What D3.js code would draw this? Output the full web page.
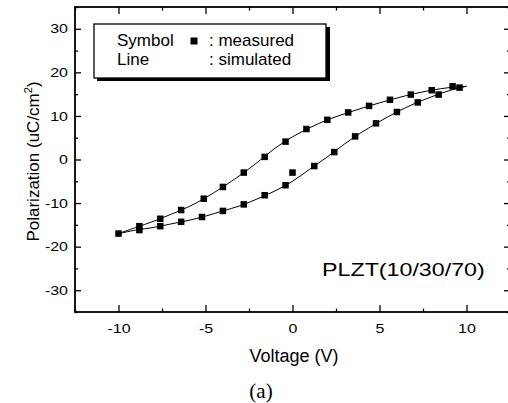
<!DOCTYPE html>
<html>
<head>
<meta charset="utf-8">
<script src="https://cdnjs.cloudflare.com/ajax/libs/d3/7.8.5/d3.min.js"></script>
<style>
  body { margin: 0; background: #fff; }
  svg text { font-family: "Liberation Sans", Arial, sans-serif; fill: #000; }
</style>
</head>
<body>
<script>
// measured points, rising branch (-10 V -> +10 V)
var riseV = [-10, -8.8, -7.6, -6.4, -5.2, -4.0, -2.8, -1.6, -0.4, 0.0, 1.25, 2.4, 3.6, 4.8, 6.0, 7.2, 8.4, 9.6];
var riseP = [-17.0, -16.2, -15.3, -14.3, -13.2, -11.8, -10.3, -8.2, -5.9, -3.0, -1.5, 1.7, 5.3, 8.3, 10.9, 13.1, 14.9, 16.5];
// measured points, falling branch (+10 V -> -10 V)
var fallV = [9.2, 8.0, 6.8, 5.6, 4.4, 3.2, 2.0, 0.8, -0.4, -1.6, -2.8, -4.0, -5.1, -6.4, -7.6, -8.8];
var fallP = [16.8, 15.9, 14.9, 13.7, 12.3, 10.8, 9.1, 7.0, 4.1, 0.6, -3.0, -6.3, -9.0, -11.6, -13.6, -15.3];

// simulated curves
var simV = [-10, -9, -8, -7, -6, -5, -4, -3, -2, -1, 0, 1, 2, 3, 4, 5, 6, 7, 8, 9, 10];
var simRiseP = [-17.0, -16.2, -15.6, -14.8, -14.0, -13.0, -11.8, -10.6, -9.0, -7.2, -5.0, -2.2, 0.6, 3.6, 6.3, 8.7, 10.9, 12.8, 14.4, 15.8, 16.8];
var simFallP = [-17.0, -15.6, -14.2, -12.6, -10.9, -8.8, -6.3, -3.6, -0.6, 2.6, 5.2, 7.3, 9.1, 10.5, 11.8, 13.0, 14.1, 15.1, 15.9, 16.5, 16.8];

var xTicks = [-10, -5, 0, 5, 10];
var xMinor = [-12.5, -7.5, -2.5, 2.5, 7.5, 12.5];
var yTicks = [-30, -20, -10, 0, 10, 20, 30];
var yMinor = [-35, -25, -15, -5, 5, 15, 25, 35];

var svg = d3.select("body").append("svg")
            .attr("width", 508)
            .attr("height", 403);

var x = d3.scaleLinear().domain([-12.5, 12.5]).range([75, 510]);
var y = d3.scaleLinear().domain([-35, 35]).range([312, 7]);

function styleAxis(g) {
  g.select(".domain").remove();
  g.selectAll(".tick line").attr("stroke", "#000").attr("stroke-width", 1.3);
}

// major ticks with labels
svg.append("g").attr("transform", "translate(0,312)")
   .call(d3.axisBottom(x).tickValues(xTicks).tickSize(-7).tickPadding(11.5).tickFormat(function (d) { return String(d); }))
   .call(styleAxis)
   .call(function (g) {
     g.selectAll("text").attr("font-size", 13).attr("transform", "scale(1.23,1)");
   });
svg.append("g").attr("transform", "translate(75,0)")
   .call(d3.axisLeft(y).tickValues(yTicks).tickSize(-6).tickPadding(5.7).tickFormat(function (d) { return String(d); }))
   .call(styleAxis)
   .call(function (g) {
     g.selectAll("text").attr("font-size", 13).attr("transform", "scale(1.23,1)");
   });
svg.append("g").attr("transform", "translate(0,7)")
   .call(d3.axisTop(x).tickValues(xTicks).tickSize(-7).tickFormat(""))
   .call(styleAxis);
svg.append("g").attr("transform", "translate(510,0)")
   .call(d3.axisRight(y).tickValues(yTicks).tickSize(-6).tickFormat(""))
   .call(styleAxis);

// minor ticks
svg.append("g").attr("transform", "translate(0,312)")
   .call(d3.axisBottom(x).tickValues(xMinor).tickSize(-3.5).tickFormat("")).call(styleAxis);
svg.append("g").attr("transform", "translate(0,7)")
   .call(d3.axisTop(x).tickValues(xMinor).tickSize(-3.5).tickFormat("")).call(styleAxis);
svg.append("g").attr("transform", "translate(75,0)")
   .call(d3.axisLeft(y).tickValues(yMinor).tickSize(-3).tickFormat("")).call(styleAxis);
svg.append("g").attr("transform", "translate(510,0)")
   .call(d3.axisRight(y).tickValues(yMinor).tickSize(-3).tickFormat("")).call(styleAxis);

// frame
svg.append("rect")
   .attr("x", 75).attr("y", 7)
   .attr("width", 435).attr("height", 305)
   .attr("fill", "none").attr("stroke", "#000").attr("stroke-width", 1.8);

// simulated lines
var line = d3.line()
             .x(function (d) { return x(d[0]); })
             .y(function (d) { return y(d[1]); })
             .curve(d3.curveCatmullRom);

[simRiseP, simFallP].forEach(function (ps) {
  svg.append("path")
     .datum(simV.map(function (v, i) { return [v, ps[i]]; }))
     .attr("d", line)
     .attr("fill", "none")
     .attr("stroke", "#000")
     .attr("stroke-width", 1);
});

// measured symbols
var pts = riseV.map(function (v, i) { return [v, riseP[i]]; })
               .concat(fallV.map(function (v, i) { return [v, fallP[i]]; }));
var sq = 6.5;
svg.selectAll("rect.pt")
   .data(pts)
   .enter()
   .append("rect")
   .attr("class", "pt")
   .attr("x", function (d) { return x(d[0]) - sq / 2; })
   .attr("y", function (d) { return y(d[1]) - sq / 2; })
   .attr("width", sq)
   .attr("height", sq)
   .attr("fill", "#000");

// legend with drop shadow
svg.append("rect").attr("x", 97).attr("y", 27).attr("width", 233).attr("height", 54).attr("fill", "#000");
svg.append("rect").attr("x", 94).attr("y", 24).attr("width", 232).attr("height", 54)
   .attr("fill", "#fff").attr("stroke", "#000").attr("stroke-width", 1.3);
svg.append("text").attr("x", 117).attr("y", 46).attr("font-size", 17).text("Symbol");
svg.append("text").attr("x", 117).attr("y", 65).attr("font-size", 17).text("Line");
svg.append("rect").attr("x", 190.5).attr("y", 37.5).attr("width", 7).attr("height", 7).attr("fill", "#000");
svg.append("text").attr("x", 209).attr("y", 46).attr("font-size", 17).text(": measured");
svg.append("text").attr("x", 209).attr("y", 65).attr("font-size", 17).text(": simulated");

// sample label
svg.append("text")
   .attr("transform", "translate(322,276) scale(1.25,1)")
   .attr("font-size", 18.6)
   .text("PLZT(10/30/70)");

// axis titles
svg.append("text")
   .attr("x", 294).attr("y", 362)
   .attr("text-anchor", "middle")
   .attr("font-size", 18)
   .text("Voltage (V)");

var yt = svg.append("text")
            .attr("transform", "translate(39,161.5) rotate(-90)")
            .attr("text-anchor", "middle")
            .attr("font-size", 17);
yt.append("tspan").text("Polarization (uC/cm");
yt.append("tspan").attr("font-size", 11).attr("dy", -7).text("2");
yt.append("tspan").attr("dy", 7).text(")");

svg.append("text")
   .attr("x", 261).attr("y", 398)
   .attr("text-anchor", "middle")
   .attr("font-size", 21)
   .style("font-family", "'Liberation Serif', 'Times New Roman', serif")
   .text("(a)");
</script>
</body>
</html>
